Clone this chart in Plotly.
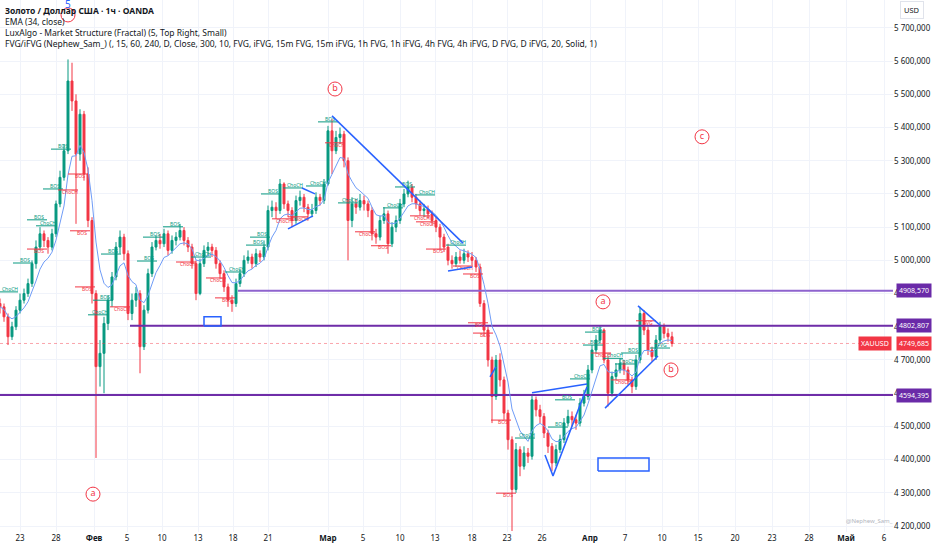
import plotly.graph_objects as go
import pandas as pd

# 8-hour bars (x = bar number, 4 px per bar)
first_open = 4870
closes = [
    4860, 4830, 4770, 4800, 4850, 4880, 4900, 4930, 4990, 5040,
    5080, 5060, 5040, 5080, 5170, 5250, 5330, 5540, 5480, 5320,
    5440, 5260, 5120, 4900, 4680, 4720, 4810, 4880, 4950, 5040,
    5070, 5020, 4840, 4880, 4900, 4740, 4850, 4960, 5040, 5060,
    5050, 5080, 5030, 5060, 5070, 5090, 5060, 5040, 4990, 4900,
    4990, 5030, 5040, 5030, 4990, 4960, 4920, 4880, 4870, 4930,
    4960, 5000, 5010, 4990, 5020, 5010, 5040, 5150, 5160, 5150,
    5230, 5170, 5150, 5120, 5180, 5190, 5160, 5140, 5150, 5190,
    5180, 5230, 5390, 5330, 5370, 5380, 5300, 5120, 5170, 5160,
    5180, 5170, 5150, 5080, 5070, 5120, 5140, 5050, 5100, 5120,
    5170, 5200, 5220, 5190, 5170, 5150, 5155, 5140, 5120, 5100,
    5070, 5040, 5000, 4990, 5010, 5000, 5020, 5010, 5000, 4980,
    4870, 4790, 4700, 4590, 4700, 4640, 4540, 4460, 4310, 4430,
    4380, 4420, 4410, 4580, 4550, 4530, 4480, 4440, 4390, 4430,
    4460, 4510, 4530, 4520, 4510, 4570, 4590, 4670, 4730, 4760,
    4790, 4700, 4600, 4650, 4670, 4690, 4670, 4640, 4620, 4700,
    4840, 4790, 4730, 4710, 4760, 4800, 4780, 4770, 4749.685,
]
highs = [
    4885, 4870, 4840, 4815, 4862, 4900, 4915, 4945, 5000, 5060,
    5100, 5090, 5070, 5095, 5180, 5270, 5350, 5605, 5595, 5500,
    5455, 5450, 5280, 5130, 4910, 4760, 4830, 4895, 4965, 5055,
    5090, 5080, 5030, 4900, 4920, 4910, 4865, 4975, 5055, 5075,
    5080, 5095, 5090, 5075, 5085, 5110, 5100, 5070, 5050, 5000,
    5005, 5045, 5055, 5050, 5040, 5000, 4970, 4930, 4895, 4945,
    4975, 5015, 5030, 5020, 5035, 5030, 5060, 5165, 5180, 5175,
    5245, 5235, 5180, 5160, 5195, 5210, 5200, 5170, 5170, 5205,
    5200, 5245, 5405, 5425, 5390, 5400, 5390, 5310, 5190, 5185,
    5200, 5195, 5180, 5160, 5095, 5135, 5160, 5150, 5115, 5135,
    5185, 5215, 5240, 5230, 5200, 5180, 5170, 5165, 5150, 5130,
    5110, 5080, 5050, 5015, 5025, 5030, 5035, 5030, 5025, 5010,
    4990, 4880, 4800, 4710, 4715, 4720, 4650, 4550, 4470, 4450,
    4440, 4440, 4435, 4595, 4590, 4565, 4540, 4490, 4450, 4445,
    4475, 4525, 4550, 4545, 4535, 4585, 4610, 4685, 4745, 4775,
    4805, 4795, 4710, 4665, 4690, 4705, 4700, 4680, 4650, 4715,
    4860, 4850, 4800, 4740, 4775, 4815, 4810, 4795, 4785,
]
lows = [
    4840, 4815, 4745, 4760, 4790, 4840, 4870, 4890, 4920, 4975,
    5030, 5040, 5020, 5030, 5070, 5160, 5240, 5320, 5450, 5110,
    5300, 5240, 5100, 4870, 4405, 4620, 4600, 4790, 4860, 4940,
    5020, 5000, 4820, 4820, 4860, 4660, 4730, 4840, 4950, 5030,
    5035, 5040, 5015, 5020, 5045, 5060, 5045, 5025, 4975, 4880,
    4895, 4980, 5015, 5010, 4975, 4945, 4905, 4860, 4845, 4860,
    4920, 4950, 4990, 4975, 4980, 4995, 5000, 5030, 5130, 5125,
    5140, 5155, 5130, 5100, 5110, 5165, 5145, 5120, 5130, 5140,
    5165, 5170, 5225, 5260, 5320, 5350, 5280, 5000, 5100, 5140,
    5150, 5150, 5130, 5060, 5050, 5060, 5110, 5020, 5040, 5085,
    5110, 5160, 5190, 5175, 5155, 5135, 5130, 5125, 5105, 5085,
    5030, 5025, 4985, 4975, 4980, 4990, 4990, 4995, 4985, 4965,
    4860, 4770, 4680, 4510, 4580, 4620, 4520, 4430, 4185, 4300,
    4350, 4370, 4390, 4400, 4530, 4510, 4465, 4420, 4365, 4380,
    4420, 4450, 4500, 4500, 4490, 4500, 4560, 4580, 4660, 4720,
    4750, 4690, 4560, 4590, 4640, 4660, 4655, 4625, 4600, 4610,
    4690, 4775, 4715, 4695, 4700, 4750, 4765, 4755, 4740,
]

tick_pos = [5, 14, 23.5, 31.75, 40.5, 49.5, 58.25, 67, 82, 90.75, 100, 108.75,
            118, 126.75, 135.5, 147.5, 156.25, 165.5, 174.5, 183.75, 193, 202.25, 211.5, 221]
tick_labels = ["23", "28", "<b>Фев</b>", "5", "10", "13", "18", "21", "<b>Мар</b>", "5", "10", "13",
               "18", "23", "26", "<b>Апр</b>", "7", "10", "15", "20", "23", "28", "<b>Май</b>", "6"]
price_ticks = [4200, 4300, 4400, 4500, 4600, 4700, 4800, 4900, 5000,
               5100, 5200, 5300, 5400, 5500, 5600, 5700]

# horizontal levels: (start bar, price)
level_start = [59.5, 32.5, 0]
level_price = [4908.570, 4802.807, 4594.395]
level_color = ["#8e63ce", "#6f2da8", "#6f2da8"]
last_price = 4749.685

# market structure labels (bar, price, text, direction)
ms_x = [2.5, 6.25, 9.75, 12, 9.75, 13.75, 15.75, 17.5, 20, 20.5, 21.75, 25, 26.25, 28.25,
        30.5, 37.25, 38.75, 43.75, 47, 50.75, 54.5, 56.75, 59.25, 64.5, 65.5, 68.25, 71,
        73.75, 75, 79.5, 82.5, 84.25, 87.5, 91.75, 95.75, 98.75, 101.75, 106.75, 105.5,
        107, 109.5, 114.5, 116.25, 118.75, 120, 121.25, 125.75, 127, 131.75, 140, 141.75,
        145.5, 148.75, 149.25, 150.75, 153.75, 156.75, 155.75, 158.25, 162, 165.5]
ms_y = [4905, 4992, 5122, 5104, 5034, 5215, 5335, 5212, 5260, 5089, 4920, 4836, 4880, 5019,
        4860, 4998, 5070, 5101, 4995, 5010, 4947, 4887, 4965, 5046, 5070, 5200, 5125,
        5218, 5131, 5224, 5417, 5354, 5173, 5086, 5044, 5158, 5221, 5197, 5134,
        5116, 5034, 5046, 4983, 4959, 4812, 4781, 4519, 4299, 4465, 4498, 4580,
        4643, 4745, 4784, 4721, 4705, 4688, 4640, 4721, 4818, 4736]
ms_text = ["ChoCH", "BOS", "BOS", "ChoCH", "BOS", "BOS", "BOS", "ChoCH", "BOS", "BOS", "BOS",
           "ChoCH", "BOS", "BOS", "ChoCH", "BOS", "BOS", "BOS", "ChoCH", "ChoCH", "ChoCH", "BOS",
           "ChoCH", "BOS", "BOS", "BOS", "ChoCH", "ChoCH", "ChoCH", "ChoCH", "BOS", "ChoCH",
           "ChoCH", "ChoCH", "BOS", "ChoCH", "BOS", "ChoCH", "ChoCH", "ChoCH", "BOS", "ChoCH",
           "ChoCH", "BOS", "BOS", "BOS", "BOS", "BOS", "ChoCH", "BOS", "BOS", "ChoCH", "BOS",
           "BOS", "ChoCH", "ChoCH", "ChoCH", "ChoCH", "BOS", "FVG", "FVG"]
ms_dir = [1, 1, 1, 1, -1, 1, 1, -1, -1, -1, -1, 1, 1, 1, -1, 1, 1, 1, -1, 1, -1, -1, 1, 1, 1,
          1, -1, 1, -1, 1, 1, -1, 1, -1, -1, 1, 1, 1, -1, -1, -1, 1, -1, -1, -1, -1, -1, -1,
          1, 1, 1, 1, 1, 1, -1, 1, 1, -1, 1, -1, 1]

# blue drawn trendlines (bar, price), one pair of lists per polyline
trend_lines = [
    ([83, 115.75], [5435, 5052]),
    ([112, 118], [4968, 4980]),
    ([72, 78.25], [5095, 5134]),
    ([75.5, 78.75], [5218, 5200]),
    ([122.5, 124], [4649, 4679]),
    ([133, 146.75], [4601, 4628]),
    ([136.25, 138.25, 146.75], [4414, 4351, 4619]),
    ([151.25, 164.5], [4555, 4712]),
    ([159.5, 165], [4863, 4805]),
]
boxes = [(51, 55.25, 4802, 4830), (149.5, 162.25, 4366, 4405)]

# wave labels
wave_x = [17, 83.75, 175.5, 150.75, 167.75, 23.25]
wave_y = [5739, 5516, 5372, 4875, 4670, 4296]
wave_text = ["", "b", "c", "a", "b", "a"]

red = "#f23645"
teal = "#089981"
FONT = "Noto Sans"
n = len(closes)
bars = list(range(n))
opens = [first_open] + closes[:-1]

fig = go.Figure()

for i, (lx, lp) in enumerate(zip(level_start, level_price)):
    fig.add_trace(go.Scatter(x=[lx, 224], y=[lp, lp], mode="lines",
                             line=dict(color=level_color[i], width=2), hoverinfo="skip"))
fig.add_trace(go.Scatter(x=[0, 224], y=[last_price, last_price], mode="lines",
                         line=dict(color="rgba(242,54,69,0.45)", width=1, dash="dot"), hoverinfo="skip"))

for bx0, bx1, p0, p1 in boxes:
    fig.add_trace(go.Scatter(x=[bx0, bx1, bx1, bx0, bx0], y=[p0, p0, p1, p1, p0], mode="lines",
                             line=dict(color="#2962ff", width=1.5), hoverinfo="skip"))

fig.add_trace(go.Candlestick(
    x=bars, open=opens, high=highs, low=lows, close=closes,
    increasing=dict(line=dict(color=teal, width=1), fillcolor=teal),
    decreasing=dict(line=dict(color=red, width=1), fillcolor=red),
    whiskerwidth=0, hoverinfo="skip"))

# EMA(34) of the hourly chart ~ a short span on these 8h bars
ema = pd.Series(closes).ewm(span=7, adjust=False).mean()
fig.add_trace(go.Scatter(x=bars, y=ema, mode="lines",
                         line=dict(color="#6f9cf7", width=1), hoverinfo="skip"))

# structure labels
for d, col, pos in [(1, teal, "top center"), (-1, red, "bottom center")]:
    lx, ly, xs, ys, ts = [], [], [], [], []
    for x, y, t, dd in zip(ms_x, ms_y, ms_text, ms_dir):
        if dd != d:
            continue
        lx += [x - 3, x + 2, None]
        ly += [y, y, None]
        xs.append(x)
        ys.append(y)
        ts.append(t)
    fig.add_trace(go.Scatter(x=lx, y=ly, mode="lines", line=dict(color=col, width=1),
                             hoverinfo="skip"))
    fig.add_trace(go.Scatter(x=xs, y=ys, mode="text", text=ts, textposition=pos,
                             textfont=dict(color=col, size=5, family=FONT),
                             hoverinfo="skip"))

for xs, ys in trend_lines:
    fig.add_trace(go.Scatter(x=xs, y=ys, mode="lines", line=dict(color="#2962ff", width=1.5),
                             hoverinfo="skip"))

fig.add_trace(go.Scatter(
    x=wave_x, y=wave_y, mode="markers+text", text=wave_text, textposition="middle center",
    marker=dict(size=14, color="rgba(255,255,255,0.85)", line=dict(color=red, width=1)),
    textfont=dict(color=red, size=9, family=FONT), hoverinfo="skip"))


def fmt(p):
    return f"{p:.3f}".replace(".", ",")


ann = []
legend_lines = ["<b>Золото / Доллар США · 1ч · OANDA</b>", "EMA (34, close)",
                "LuxAlgo - Market Structure (Fractal) (5, Top Right, Small)",
                "FVG/iFVG (Nephew_Sam_) (, 15, 60, 240, D, Close, 300, 10, FVG, iFVG, 15m FVG, 15m iFVG, "
                "1h FVG, 1h iFVG, 4h FVG, 4h iFVG, D FVG, D iFVG, 20, Solid, 1)"]
for k, t in enumerate(legend_lines):
    ann.append(dict(xref="paper", yref="paper", x=0.003, y=1 - (11 + 10.7 * k) / 532,
                    xanchor="left", yanchor="middle", text=t, showarrow=False,
                    font=dict(size=8.5, color="#131722", family=FONT)))
ann.append(dict(x=17, y=5772, text="5", showarrow=False,
                font=dict(size=10, color="#2962ff", family=FONT)))
for lp in level_price:
    ann.append(dict(xref="paper", x=1.003, y=lp, xanchor="left", yanchor="middle",
                    text=fmt(lp), showarrow=False, bgcolor="#6a2aa8", borderpad=2,
                    font=dict(size=7, color="white", family=FONT)))
ann.append(dict(xref="paper", x=1.003, y=last_price, xanchor="left", yanchor="middle",
                text=fmt(last_price), showarrow=False, bgcolor=red,
                borderpad=2, font=dict(size=7, color="white", family=FONT)))
ann.append(dict(xref="paper", x=0.999, y=last_price, xanchor="right", yanchor="middle",
                text="XAUUSD", showarrow=False, bgcolor=red, borderpad=2,
                font=dict(size=7, color="white", family=FONT)))
ann.append(dict(xref="paper", yref="paper", x=1.021, y=0.981, xanchor="center", yanchor="middle",
                text="USD", showarrow=False, bgcolor="white", bordercolor="#e0e3eb",
                borderwidth=1, borderpad=3, font=dict(size=7.5, color="#131722", family=FONT)))
ann.append(dict(xref="paper", yref="paper", x=0.974, y=0.021, xanchor="center", yanchor="middle",
                text="@Nephew_Sam_", showarrow=False,
                font=dict(size=6, color="#b2b5be", family=FONT)))

fig.update_layout(
    width=932, height=550, margin=dict(l=0, r=39, t=0, b=18),
    paper_bgcolor="white", plot_bgcolor="white", showlegend=False,
    annotations=ann,
    xaxis=dict(range=[0, 223.25], rangeslider=dict(visible=False), tickvals=tick_pos,
               ticktext=tick_labels, showgrid=True, gridcolor="#f0f3fa", zeroline=False,
               ticks="", tickfont=dict(size=8, color="#131722", family=FONT),
               showline=False),
    yaxis=dict(range=[4182, 5784], side="right", tickvals=price_ticks,
               ticktext=[f"{p:,}".replace(",", " ") + ",000" for p in price_ticks],
               showgrid=True, gridcolor="#f0f3fa", zeroline=False, ticks="",
               tickfont=dict(size=8, color="#131722", family=FONT), showline=False),
)

fig.write_html("out.html", config={"displayModeBar": False},
               post_script="document.body.style.margin='0';document.body.style.overflow='hidden';")
